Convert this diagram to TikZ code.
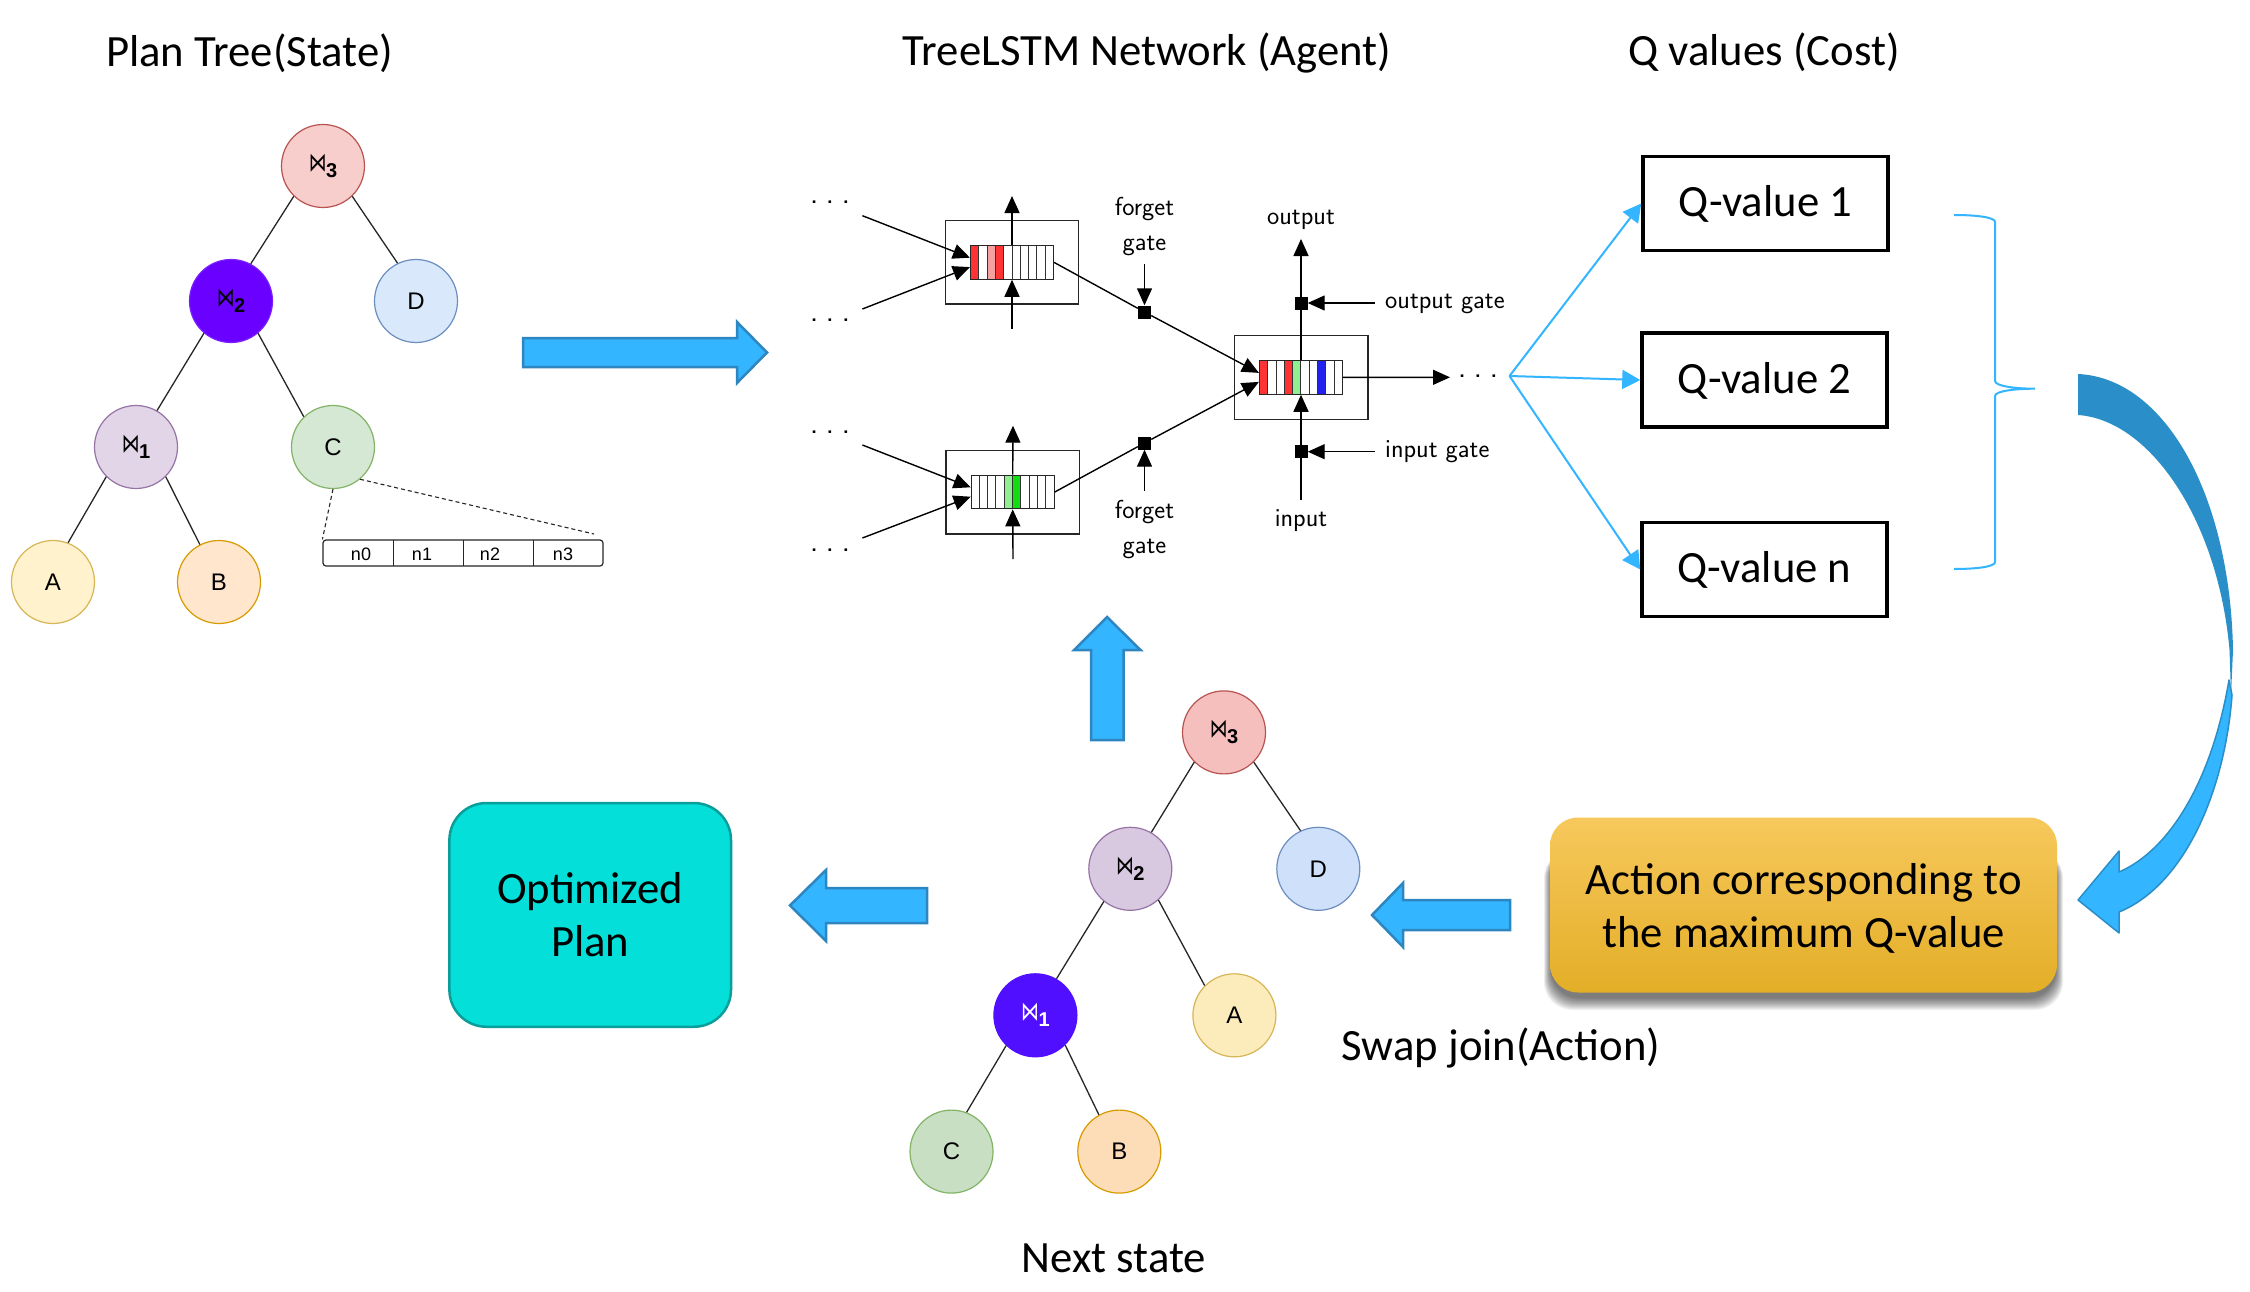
\documentclass[tikz,border=0pt]{standalone}
\usepackage{fontspec}
\setmainfont{Carlito}
\newfontfamily\arialf{Liberation Sans}
\newfontfamily\dvf{DejaVu Sans}
\usetikzlibrary{arrows.meta}
\definecolor{sky}{HTML}{33B5FF}
\definecolor{skyedge}{HTML}{2E86C1}
\definecolor{deepsky}{HTML}{2A8FC8}
\definecolor{cellred}{HTML}{FF3333}
\definecolor{cellpink}{HTML}{F5A0A0}
\definecolor{celllg}{HTML}{90F090}
\definecolor{cellg}{HTML}{11DD11}
\definecolor{cellb}{HTML}{2222EE}
\definecolor{acttop}{HTML}{F7C85C}
\definecolor{actmid}{HTML}{FDBE33}
\definecolor{actbot}{HTML}{E3AE27}
\definecolor{optfill}{HTML}{04DFD9}
\definecolor{optedge}{HTML}{0A9E9A}
\newcommand{\fs}[1]{\fontsize{#1}{#1}\selectfont}
\newcommand{\btie}[1]{\scalebox{.85}[1.25]{\fs{21}\dvf ⋈}\kern-.5pt\raisebox{-6pt}{\fs{20}\arialf\bfseries #1}}
\tikzset{
  tn/.style={circle,draw,line width=1.2pt,minimum size=83pt,inner sep=0pt,font=\fs{24}\arialf},
  tcol/.code 2 args={\definecolor{tfl}{HTML}{#1}\definecolor{tdr}{HTML}{#2}\tikzset{fill=tfl,draw=tdr}},
  tedge/.style={draw=black!85,line width=1.3pt},
  lbl/.style={font=\fs{44.7},inner sep=0pt},
  qbox/.style={draw=black,line width=3.5pt,fill=white,minimum width=245pt,minimum height=94pt,inner sep=0pt,font=\fs{44.7},text height=36pt,text depth=10pt},
  lstmbox/.style={draw=black!85,line width=1.4pt,minimum width=133.5pt,minimum height=83.5pt,inner sep=0pt},
  vecbox/.style={draw=black!85,line width=1.2pt,minimum width=83pt,minimum height=33.5pt,inner sep=0pt},
  gatebox/.style={fill=black,minimum size=13pt,inner sep=0pt},
  lstm/.style={draw=black,line width=1.4pt},
  lstmar/.style={lstm,-{Triangle[length=17pt,width=15pt]}},
  sl/.style={font=\fs{26}\sffamily,inner sep=0pt},
  dotl/.style={font=\fs{20}\sffamily\bfseries,inner sep=0pt},
  cyanar/.style={draw=sky,line width=2pt,-{Triangle[length=18pt,width=19pt]}},
  fatar/.style={draw=skyedge,fill=sky,line width=2.5pt,line join=miter},
  vecl/.style={font=\fs{18}\arialf,inner sep=0pt},
}
\newcommand{\cells}[4]{% x0, ytop, ybot, colour list
  \foreach \i/\c in {#4}{
    \filldraw[fill=\c,draw=black!80,line width=1pt]
      ({#1+\i*8.3},#2) rectangle ({#1+(\i+1)*8.3},#3);
  }
}
\begin{document}
\begin{tikzpicture}[x=1pt,y=-1pt]
\useasboundingbox (0,0) rectangle (2250,1292);
\fill[white] (0,0) rectangle (2250,1292);

% titles
\node[lbl] (t1) at (249.5,53) {Plan Tree(State)};
\node[lbl] (t2) at (1147,53) {TreeLSTM Network (Agent)};
\node[lbl] (t3) at (1764,52) {Q values (Cost)};
\node[lbl] (t4) at (1114,1258) {Next state};
\node[lbl] (t5) at (1501,1048) {Swap join(Action)};

% top tree
\node[tn,tcol={F8CECC}{B85450}] (a3) at (323,166) {\btie{3}};
\node[tn,tcol={6A00FF}{7A20FF}] (a2) at (231,301) {\btie{2}};
\node[tn,tcol={DAE8FC}{6C8EBF}] (aD) at (416,301) {D};
\node[tn,tcol={E1D5E7}{9673A6}] (a1) at (136,447) {\btie{1}};
\node[tn,tcol={D5E8D4}{82B366}] (aC) at (333,447) {C};
\node[tn,tcol={FFF2CC}{D6B656}] (aA) at (53,582) {A};
\node[tn,tcol={FFE6CC}{D79B00}] (aB) at (219,582) {B};
\draw[tedge] (a3.226) -- (a2.62);
\draw[tedge] (a3.314) -- (aD.116);
\draw[tedge] (a2.230) -- (a1.60);
\draw[tedge] (a2.310) -- (aC.134);
\draw[tedge] (a1.225) -- (aA.69);
\draw[tedge] (a1.315) -- (aB.117);

% feature vector
\node[draw=black!85,line width=1.2pt,rounded corners=3pt,minimum width=280pt,minimum height=26pt,inner sep=0pt] (fv) at (463,553) {};
\draw[black!85,line width=1pt] (393.5,540) -- (393.5,566) (463,540) -- (463,566) (533.5,540) -- (533.5,566);
\node[vecl] (n0) at (361,554.5) {n0};
\node[vecl] (n1) at (422,554.5) {n1};
\node[vecl] (n2) at (490,554.5) {n2};
\node[vecl] (n3) at (563,554.5) {n3};
\draw[black!85,line width=1.1pt,dash pattern=on 4pt off 3pt] (aC.270) -- (fv.north west);
\coordinate (fvr) at (594,534);
\draw[black!85,line width=1.1pt,dash pattern=on 4pt off 3pt] (aC.-50) -- (fvr);

% big arrow to LSTM
\draw[fatar] (523,338) -- (737,338) -- (737,322) -- (767,352.5) -- (737,383) -- (737,367) -- (523,367) -- cycle;

% LSTM boxes
\node[lstmbox] (b1) at (1012,262.4) {};
\node[lstmbox] (b2) at (1012.7,492.2) {};
\node[lstmbox] (b3) at (1301.3,377.5) {};
\cells{970.5}{245.7}{279}{0/cellred,1/white,2/cellpink,3/cellred,4/white,5/white,6/white,7/white,8/white,9/white}
\cells{971}{475.3}{508.7}{0/white,1/white,2/white,3/white,4/celllg,5/cellg,6/white,7/white,8/white,9/white}
\cells{1259.4}{360.7}{394}{0/cellred,1/white,2/white,3/cellred,4/celllg,5/white,6/white,7/cellb,8/white,9/white}
\node[vecbox] (v1) at (1012,262.4) {};
\node[vecbox] (v2) at (1012.7,492) {};
\node[vecbox] (v3) at (1301,377.4) {};

\node[gatebox] (gf1) at (1144.5,312) {};
\node[gatebox] (gf2) at (1144.5,443) {};
\node[gatebox] (go) at (1301,303) {};
\node[gatebox] (gi) at (1301,451.7) {};

% dots
\node[dotl] (d1) at (830,202) {. . .};
\node[dotl] (d2) at (830,320) {. . .};
\node[dotl] (d3) at (830,431.7) {. . .};
\node[dotl] (d4) at (830,550) {. . .};
\node[dotl] (d5) at (1478,376) {. . .};

% LSTM text
\node[sl] (lf1) at (1144.5,209.5) {forget};
\node[sl] (lg1) at (1144.5,245.5) {gate};
\node[sl] (lf2) at (1144.5,512) {forget};
\node[sl] (lg2) at (1144.5,549) {gate};
\node[sl] (lo) at (1301,219.5) {output};
\node[sl] (li) at (1301,521) {input};
\node[sl,anchor=west] (log) at (1385,304) {output gate};
\node[sl,anchor=west] (lig) at (1385,452) {input gate};

% LSTM free ends
\coordinate (c1) at (862.4,215.7);
\coordinate (c2) at (862.4,309);
\coordinate (c3) at (862.4,445);
\coordinate (c4) at (862.4,538);
\coordinate (u1) at (1012,196);
\coordinate (l1) at (1012,329);
\coordinate (u2) at (1013,425.7);
\coordinate (l2) at (1013,559);
\coordinate (e1) at (1144.5,264);
\coordinate (e2) at (1144.5,491);
\coordinate (oe) at (1301,239);
\coordinate (ie) at (1301,500);
\coordinate (oge) at (1374.8,303);
\coordinate (ige) at (1374.8,451.7);
\coordinate (re) at (1450,377.3);

\draw[lstmar] (c1) -- ([yshift=4.7pt]v1.west);
\draw[lstmar] (c2) -- ([yshift=-4.7pt]v1.west);
\draw[lstmar] (c3) -- ([yshift=4.7pt]v2.west);
\draw[lstmar] (c4) -- ([yshift=-4.7pt]v2.west);
\draw[lstmar] (v1.north) -- (u1);
\draw[lstmar] (l1) -- (v1.south);
\draw[lstmar] (v2.north) -- (u2);
\draw[lstmar] (l2) -- (v2.south);
\draw[lstm] (v1.east) -- (gf1);
\draw[lstmar] (gf1) -- ([yshift=4.5pt]v3.west);
\draw[lstm] (v2.east) -- (gf2);
\draw[lstmar] (gf2) -- ([yshift=-4.5pt]v3.west);
\draw[lstmar] (e1) -- (gf1.north);
\draw[lstmar] (e2) -- (gf2.south);
\draw[lstmar] (v3.north) -- (oe);
\draw[lstmar] (ie) -- (v3.south);
\draw[lstmar] (oge) -- (go.east);
\draw[lstmar] (ige) -- (gi.east);
\draw[lstmar] (v3.east) -- (re);

% Q boxes
\node[qbox] (q1) at (1765.5,203.5) {Q-value 1};
\node[qbox] (q2) at (1764.5,380) {Q-value 2};
\node[qbox] (q3) at (1764.5,569.5) {Q-value n};
\coordinate (fan) at (1509.5,376);
\draw[cyanar] (fan) -- (q1.west);
\draw[cyanar] (fan) -- (q2.west);
\draw[cyanar] (fan) -- (q3.west);

% brace
\draw[sky,line width=2pt] (1954,215) .. controls (1975,215) and (1995,217) .. (1995,222)
  -- (1995,381) .. controls (1995,386) and (2015,388.7) .. (2035,388.7)
  .. controls (2015,388.7) and (1995,391) .. (1995,396)
  -- (1995,562) .. controls (1995,567) and (1975,569) .. (1954,569);

% curved arrow
\draw[fatar,draw=deepsky,line width=1.5pt,line join=round] (2078,900) -- (2119,851) -- (2119,872)
   .. controls (2170,850) and (2212,780) .. (2229,680)
   -- (2232,695)
   .. controls (2225,790) and (2185,885) .. (2119,912)
   -- (2119,933) -- cycle;
\fill[deepsky] (2078,374) .. controls (2165,378) and (2230,495) .. (2233,650)
   -- (2231,695) -- (2229.5,650)
   .. controls (2218,520) and (2150,420) .. (2078,415) -- cycle;

% action box
\foreach \e in {10,9,...,-2}{
  \fill[black,opacity=.05,rounded corners=28pt] ({1550-0.6*\e},{850}) rectangle ({2057+0.6*\e},{1000+\e});
}
\node[rounded corners=28pt,minimum width=507pt,minimum height=175pt,inner sep=0pt,
  top color=acttop,middle color=actmid,bottom color=actbot] (act) at (1803.5,905) {};
\node[font=\fs{44.7},align=center,inner sep=0pt] (actt) at (1803.5,908) {Action corresponding to\\[8.3pt]the maximum Q-value};

% swap arrow
\draw[fatar] (1372,915) -- (1403,883) -- (1403,900) -- (1510,900) -- (1510,930) -- (1403,930) -- (1403,947) -- cycle;

% bottom tree
\node[tn,tcol={F5BFBD}{B85450}] (b3t) at (1224,732.4) {\btie{3}};
\node[tn,tcol={D8C8E0}{9673A6}] (b2t) at (1130.3,868.8) {\btie{2}};
\node[tn,tcol={CFE0FA}{6C8EBF}] (bD) at (1318.3,868.8) {D};
\node[tn,tcol={5010FF}{5010FF},text=white] (b1t) at (1035.4,1015.3) {\btie{1}};
\node[tn,tcol={FCEBBB}{D6B656}] (bA) at (1234.4,1015.3) {A};
\node[tn,tcol={C8DFC4}{82B366}] (bC) at (951.5,1151.6) {C};
\node[tn,tcol={FDDDB8}{D79B00}] (bB) at (1119.3,1151.6) {B};
\draw[tedge] (b3t.225) -- (b2t.60);
\draw[tedge] (b3t.315) -- (bD.115);
\draw[tedge] (b2t.231) -- (b1t.60);
\draw[tedge] (b2t.312) -- (bA.135);
\draw[tedge] (b1t.226) -- (bC.69);
\draw[tedge] (b1t.315) -- (bB.119);

% up arrow
\draw[fatar] (1107,617) -- (1140.5,650) -- (1123.5,650) -- (1123.5,740) -- (1091,740) -- (1091,650) -- (1074,650) -- cycle;

% left arrow to plan
\draw[fatar] (790,905.4) -- (826,870) -- (826,888) -- (927,888) -- (927,923) -- (826,923) -- (826,941) -- cycle;

% optimized plan
\node[draw=optedge,fill=optfill,line width=2.5pt,rounded corners=37pt,minimum width=281.6pt,minimum height=223.7pt,inner sep=0pt,font=\fs{44.7},align=center] (opt) at (590.2,914.9) {Optimized\\[8.3pt]Plan};
\end{tikzpicture}
\end{document}
